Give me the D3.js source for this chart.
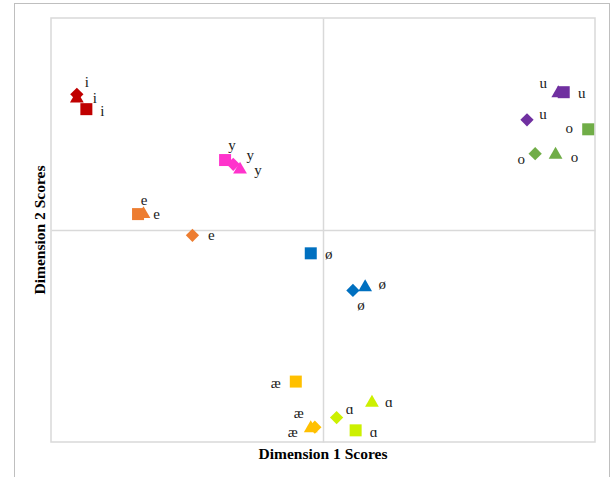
<!DOCTYPE html>
<html>
<head>
<meta charset="utf-8">
<script src="https://cdn.jsdelivr.net/npm/d3@7"></script>
<style>
  body { margin: 0; background: #fff; }
  text { font-family: "Liberation Serif", "Times New Roman", serif; }
</style>
</head>
<body>
<div id="chart"></div>
<script>
// vowel per point, marker shape per point, and the two dimension scores
var vowels = ["i", "i", "i", "y", "y", "y", "e", "e", "e",
              "u", "u", "u", "o", "o", "o", "ø", "ø", "ø",
              "æ", "æ", "æ", "ɑ", "ɑ", "ɑ"];
var shapes = ["diamond", "triangle", "square", "square", "diamond", "triangle", "square", "triangle", "diamond",
              "diamond", "triangle", "square", "square", "diamond", "triangle", "square", "diamond", "triangle",
              "square", "triangle", "diamond", "triangle", "diamond", "square"];
var dim1 = [-1.81, -1.81, -1.74, -0.72, -0.66, -0.61, -1.36, -1.32, -0.96,
             1.50,  1.73,  1.77,  1.95,  1.56,  1.71, -0.09,  0.22,  0.31,
            -0.20, -0.09, -0.06,  0.36,  0.10,  0.24];
var dim2 = [ 1.28,  1.24,  1.14,  0.66,  0.62,  0.57,  0.15,  0.15, -0.05,
             1.04,  1.29,  1.30,  0.95,  0.72,  0.71, -0.22, -0.57, -0.54,
            -1.43, -1.87, -1.86, -1.63, -1.77, -1.89];

var vowelOrder = ["i", "y", "e", "u", "o", "ø", "æ", "ɑ"];
var vowelColors = ["#C00000", "#FF33CC", "#ED7D31", "#7030A0", "#70AD47", "#0070C0", "#FFC000", "#CCF000"];

// where each point's text sits relative to its marker (label nudges, px)
var labelNudge = [[10, -12], [18, -1], [16, 2], [7, -15], [17, -9], [18, 0], [6, -14], [13, 0], [19, 0],
                  [16, -6], [-15, -10], [18, 1], [-19, -1], [-14, 5], [19, 2], [18, 1], [8, 15], [17, -3],
                  [-20, 1], [-12, -15], [-22, 5], [17, -1], [13, -9], [18, 2]];

var data = vowels.map(function(v, i) {
    return {vowel: v, shape: shapes[i], x: dim1[i], y: dim2[i], nudge: labelNudge[i]};
});

var W = 610, H = 477;
var margin = {top: 18, right: 15, bottom: 35, left: 51},
    width = W - margin.left - margin.right,
    height = H - margin.top - margin.bottom;

var svg = d3.select("#chart")
    .append("svg")
    .attr("width", W)
    .attr("height", H);

// outer chart frame
svg.append("rect")
    .attr("x", 14.5).attr("y", 3.5)
    .attr("width", 595).attr("height", 480)
    .style("fill", "none")
    .style("stroke", "#bfbfbf")
    .style("stroke-width", 1);

var g = svg.append("g")
    .attr("transform", "translate(" + margin.left + "," + margin.top + ")");

var x = d3.scaleLinear().domain([-2, 2]).range([0, width]);
var y = d3.scaleLinear().domain([-2, 2]).range([height, 0]);

var color = d3.scaleOrdinal().domain(vowelOrder).range(vowelColors);

// plot border
g.append("rect")
    .attr("width", width).attr("height", height)
    .style("fill", "none")
    .style("stroke", "#d9d9d9")
    .style("stroke-width", 1.5);

// zero lines (axes with no ticks)
g.append("g")
    .attr("transform", "translate(0," + y(0) + ")")
    .call(d3.axisBottom(x).tickValues([]).tickSizeOuter(0))
    .call(function(a) { a.select(".domain").style("stroke", "#d9d9d9").style("stroke-width", 1.5); });
g.append("g")
    .attr("transform", "translate(" + x(0) + ",0)")
    .call(d3.axisLeft(y).tickValues([]).tickSizeOuter(0))
    .call(function(a) { a.select(".domain").style("stroke", "#d9d9d9").style("stroke-width", 1.5); });

var symbolFor = {
    square: d3.symbol().type(d3.symbolSquare).size(144),
    diamond: d3.symbol().type(d3.symbolSquare).size(88),
    triangle: d3.symbol().type(d3.symbolTriangle).size(82)
};

g.selectAll(".pt")
    .data(data)
    .enter()
    .append("path")
    .attr("class", "pt")
    .attr("d", function(d) { return symbolFor[d.shape](); })
    .attr("transform", function(d) {
        return "translate(" + x(d.x) + "," + y(d.y) + ")" + (d.shape == "diamond" ? " rotate(45)" : "");
    })
    .style("fill", function(d) { return color(d.vowel); });

g.selectAll(".lbl")
    .data(data)
    .enter()
    .append("text")
    .attr("class", "lbl")
    .attr("x", function(d) { return x(d.x) + d.nudge[0]; })
    .attr("y", function(d) { return y(d.y) + d.nudge[1]; })
    .attr("text-anchor", "middle")
    .attr("dominant-baseline", "central")
    .style("font-size", "15px")
    .style("fill", "#1a1a1a")
    .text(function(d) { return d.vowel; });

// axis titles
svg.append("text")
    .attr("x", margin.left + width / 2)
    .attr("y", 459)
    .attr("text-anchor", "middle")
    .style("font-size", "15.5px")
    .style("font-weight", "bold")
    .text("Dimension 1 Scores");

svg.append("text")
    .attr("transform", "translate(45," + (margin.top + height / 2) + ") rotate(-90)")
    .attr("text-anchor", "middle")
    .style("font-size", "15.5px")
    .style("font-weight", "bold")
    .text("Dimension 2 Scores");
</script>
</body>
</html>
